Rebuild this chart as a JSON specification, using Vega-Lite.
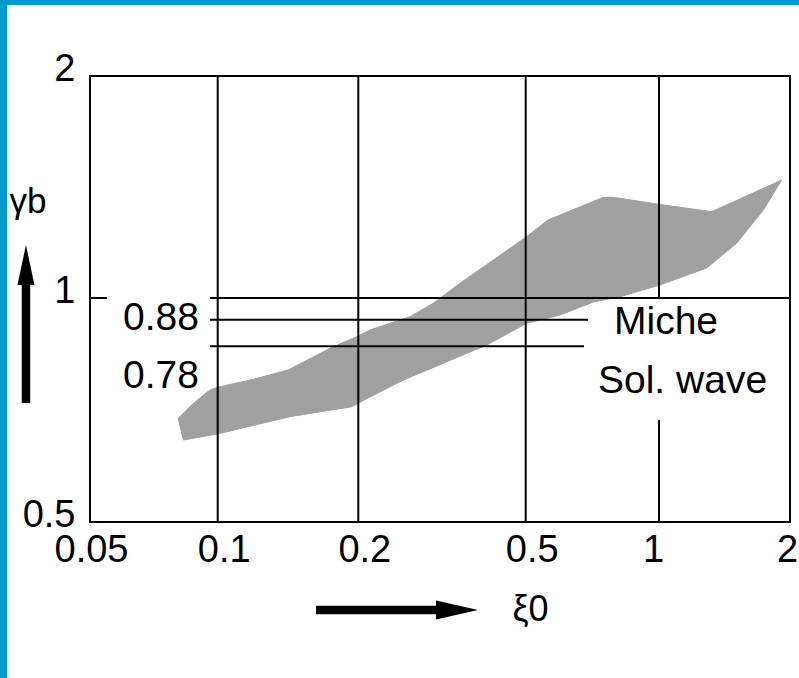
{
  "$schema": "https://vega.github.io/schema/vega-lite/v6.json",
  "width": 700,
  "height": 446,
  "autosize": {"type": "none"},
  "padding": {"left": 90, "top": 76, "right": 9, "bottom": 156},
  "background": "white",
  "config": {
    "font": "Liberation Sans",
    "view": {"stroke": "black", "strokeWidth": 2}
  },
  "encoding": {
    "x": {
      "field": "x",
      "type": "quantitative",
      "scale": {"type": "log", "domain": [0.05, 0.1, 0.2, 0.5, 1, 2], "range": [0, 127.7, 268.3, 435.7, 569, 700], "nice": false},
      "axis": {
        "values": [0.05, 0.1, 0.2, 0.5, 1, 2],
        "labelExpr": "'' + datum.value",
        "labelFontSize": 38,
        "labelColor": "black",
        "labelPadding": 39,
        "labelBaseline": "alphabetic",
        "labelOffset": {
          "condition": [
            {"test": "datum.value == 2", "value": -3},
            {"test": "datum.value == 1", "value": -6},
            {"test": "datum.value == 0.05", "value": 1}
          ],
          "value": 6
        },
        "labelOverlap": false,
        "labelFlush": false,
        "labelBound": false,
        "domain": false,
        "ticks": false,
        "tickSize": 0,
        "grid": false,
        "title": "ξ0",
        "titleFontSize": 36,
        "titleFontWeight": "normal",
        "titleColor": "black",
        "titleX": 422,
        "titleY": 98,
        "titleAlign": "left",
        "titleBaseline": "alphabetic"
      }
    },
    "y": {
      "field": "y",
      "type": "quantitative",
      "scale": {"type": "log", "domain": [0.5, 0.78, 0.88, 1, 2], "range": [446, 270.3, 243.7, 222, 0], "nice": false},
      "axis": {
        "values": [0.5, 1, 2],
        "labelExpr": "'' + datum.value",
        "labelFontSize": 38,
        "labelColor": "black",
        "labelPadding": 15,
        "labelAlign": "right",
        "labelBaseline": "alphabetic",
        "labelOffset": 4,
        "labelOverlap": false,
        "labelFlush": false,
        "labelBound": false,
        "domain": false,
        "ticks": false,
        "tickSize": 0,
        "grid": false,
        "title": "γb",
        "titleAngle": 0,
        "titleFontSize": 35,
        "titleFontWeight": "normal",
        "titleColor": "black",
        "titleX": -81,
        "titleY": 136,
        "titleAlign": "left",
        "titleBaseline": "alphabetic"
      }
    }
  },
  "layer": [
    {
      "data": {"values": [
        {"x": 0.02, "x2": 0.03187, "y": 0.2, "y2": 4},
        {"x": 0.02, "x2": 4, "y": 2.496, "y2": 4}
      ]},
      "mark": {"type": "rect", "color": "#0099cc"},
      "encoding": {"x2": {"field": "x2"}, "y2": {"field": "y2"}}
    },
    {
      "data": {"values": [
        {"i": 1, "x": 0.0807, "y": 0.650},
        {"i": 2, "x": 0.0868, "y": 0.6723},
        {"i": 3, "x": 0.0925, "y": 0.6895},
        {"i": 4, "x": 0.0959, "y": 0.6983},
        {"i": 5, "x": 0.1, "y": 0.7031},
        {"i": 6, "x": 0.1192, "y": 0.7175},
        {"i": 7, "x": 0.1416, "y": 0.7346},
        {"i": 8, "x": 0.1740, "y": 0.7761},
        {"i": 9, "x": 0.1984, "y": 0.8147},
        {"i": 10, "x": 0.2132, "y": 0.8399},
        {"i": 11, "x": 0.2513, "y": 0.8788},
        {"i": 12, "x": 0.2654, "y": 0.8957},
        {"i": 13, "x": 0.3015, "y": 0.9693},
        {"i": 14, "x": 0.3490, "y": 1.047},
        {"i": 15, "x": 0.4188, "y": 1.126},
        {"i": 16, "x": 0.5026, "y": 1.211},
        {"i": 17, "x": 0.5615, "y": 1.2757},
        {"i": 18, "x": 0.7485, "y": 1.3694},
        {"i": 19, "x": 0.7885, "y": 1.3694},
        {"i": 20, "x": 1.0053, "y": 1.339},
        {"i": 21, "x": 1.3216, "y": 1.3092},
        {"i": 22, "x": 1.914, "y": 1.4454},
        {"i": 23, "x": 1.737, "y": 1.3163},
        {"i": 24, "x": 1.508, "y": 1.1862},
        {"i": 25, "x": 1.287, "y": 1.0982},
        {"i": 26, "x": 1.005, "y": 1.0414},
        {"i": 27, "x": 0.8165, "y": 1.0041},
        {"i": 28, "x": 0.7106, "y": 0.9767},
        {"i": 29, "x": 0.5976, "y": 0.9047},
        {"i": 30, "x": 0.5026, "y": 0.8658},
        {"i": 31, "x": 0.4039, "y": 0.7846},
        {"i": 32, "x": 0.2559, "y": 0.7162},
        {"i": 33, "x": 0.2132, "y": 0.6861},
        {"i": 34, "x": 0.1936, "y": 0.6694},
        {"i": 35, "x": 0.1428, "y": 0.6527},
        {"i": 36, "x": 0.1, "y": 0.6248},
        {"i": 37, "x": 0.0830, "y": 0.6153}
      ]},
      "mark": {"type": "line", "filled": true, "fill": "#a0a0a0", "stroke": "#a0a0a0", "strokeWidth": 1, "interpolate": "linear-closed"},
      "encoding": {"order": {"field": "i", "type": "quantitative"}}
    },
    {
      "data": {"values": [
        {"x": 0.1, "x2": 0.1, "y": 0.5, "y2": 2},
        {"x": 0.2, "x2": 0.2, "y": 0.5, "y2": 2},
        {"x": 0.5, "x2": 0.5, "y": 0.5, "y2": 2},
        {"x": 1, "x2": 1, "y": 1, "y2": 2},
        {"x": 1, "x2": 1, "y": 0.5, "y2": 0.6472},
        {"x": 0.0959, "x2": 2, "y": 1, "y2": 1},
        {"x": 0.05, "x2": 0.0548, "y": 1, "y2": 1},
        {"x": 0.0959, "x2": 0.6913, "y": 0.88, "y2": 0.88},
        {"x": 0.0959, "x2": 0.6771, "y": 0.78, "y2": 0.78}
      ]},
      "mark": {"type": "rule", "color": "black", "strokeWidth": 2},
      "encoding": {"x2": {"field": "x2"}, "y2": {"field": "y2"}}
    },
    {
      "data": {"values": [
        {"x": 0.03532, "x2": 0.03532, "y": 0.6757, "y2": 1.0414},
        {"x": 0.1624, "x2": 0.3128, "y": 0.4002, "y2": 0.4002}
      ]},
      "mark": {"type": "rule", "color": "black", "strokeWidth": 8.5, "strokeCap": "butt"},
      "encoding": {"x2": {"field": "x2"}, "y2": {"field": "y2"}}
    },
    {
      "data": {"values": [{"x": 0.03532, "y": 1.1085}]},
      "mark": {"type": "point", "shape": "M0,-1L0.425,1L-0.425,1Z", "size": 1600, "filled": true, "color": "black", "opacity": 1, "strokeWidth": 0}
    },
    {
      "data": {"values": [{"x": 0.3433, "y": 0.4002}]},
      "mark": {"type": "point", "shape": "M1,0L-1,-0.45L-1,0.45Z", "size": 1764, "filled": true, "color": "black", "opacity": 1, "strokeWidth": 0}
    },
    {
      "data": {"values": [
        {"label": "0.88", "x": 0.0598, "y": 0.8399},
        {"label": "0.78", "x": 0.0598, "y": 0.7018},
        {"label": "Miche", "x": 0.7914, "y": 0.8247},
        {"label": "Sol. wave", "x": 0.7282, "y": 0.6930}
      ]},
      "mark": {"type": "text", "align": "left", "baseline": "alphabetic", "fontSize": 39, "font": "Liberation Sans", "color": "black"},
      "encoding": {"text": {"field": "label", "type": "nominal"}}
    }
  ]
}
